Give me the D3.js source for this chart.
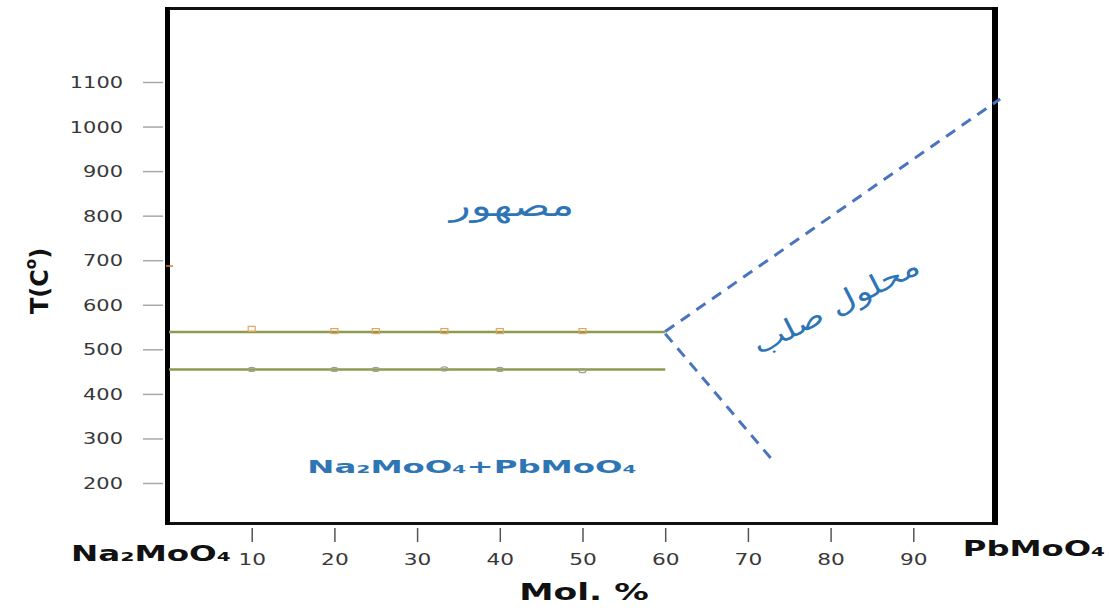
<!DOCTYPE html>
<html>
<head>
<meta charset="utf-8">
<script src="https://cdn.jsdelivr.net/npm/d3@7"></script>
<style>
  html, body { margin: 0; padding: 0; background: #fff; }
  svg { display: block; }
</style>
</head>
<body>
<svg id="chart" width="1109" height="608"></svg>
<script>
// Na2MoO4 – PbMoO4 phase diagram

// Axis ticks
const xTicks = [10, 20, 30, 40, 50, 60, 70, 80, 90];
const yTicks = [200, 300, 400, 500, 600, 700, 800, 900, 1000, 1100];

// Measured compositions (mol % PbMoO4) and thermal effects (°C)
const compositions = [10, 20, 25, 33.3, 40, 50];
const upperEffectT = [546, 541, 541, 541, 541, 541];
const lowerEffectT = [455, 455, 455, 456, 455, 452];

// Horizontal invariant lines: [from %, to %, T]
const upperLine = [0, 60, 539];
const lowerLine = [0, 60, 455];

// Melting point of pure Na2MoO4
const meltNa = [[0, 687]];

// Dashed boundaries of the solid-solution field
const liquidusPts = [[60, 540], [100.5, 1062]];
const solidusPts = [[60, 535], [72.8, 255]];

const svg = d3.select("#chart");
svg.append("rect").attr("width", 1109).attr("height", 608).attr("fill", "#fff");

const x = d3.scaleLinear().domain([0, 100]).range([169, 996]);
const y = d3.scaleLinear().domain([200, 1100]).range([483, 82]);

const frame = { left: 167.5, right: 995, top: 8.5, bottom: 523.5 };

// Horizontally stretched text helper
function wideText(parent, px, py, sx, str, opts) {
  const g = parent.append("g").attr("transform", `translate(${px},${py}) scale(${sx},1)`);
  const t = g.append("text")
    .attr("text-anchor", opts.anchor || "middle")
    .attr("dominant-baseline", "central")
    .attr("font-family", opts.family || "DejaVu Sans")
    .attr("font-size", opts.size)
    .attr("font-weight", opts.weight || "normal")
    .attr("fill", opts.fill || "#000")
    .text(str);
  return t;
}

// Y axis (ticks outside the frame)
const yAxisG = svg.append("g")
  .attr("transform", "translate(163,0)")
  .call(d3.axisLeft(y).tickValues(yTicks).tickSize(20).tickFormat(d3.format("d")));
yAxisG.select(".domain").remove();
yAxisG.selectAll(".tick line").attr("stroke", "#a8a8a8").attr("stroke-width", 1.5);
yAxisG.selectAll(".tick text").remove();
yAxisG.selectAll(".tick").each(function (d) {
  wideText(d3.select(this), -40, 0, 1.35, String(d),
    { anchor: "end", size: 15.5, fill: "#383838" });
});

// X axis
const xAxisG = svg.append("g")
  .attr("transform", "translate(0,528)")
  .call(d3.axisBottom(x).tickValues(xTicks).tickSize(14).tickFormat(d3.format("d")));
xAxisG.select(".domain").remove();
xAxisG.selectAll(".tick line").attr("stroke", "#555").attr("stroke-width", 1.5);
xAxisG.selectAll(".tick text").remove();
xAxisG.selectAll(".tick").each(function (d) {
  wideText(d3.select(this), 0, 32, 1.4, String(d), { size: 15.5, fill: "#383838" });
});

// Frame
svg.append("line").attr("x1", frame.left).attr("x2", frame.right + 3)
  .attr("y1", frame.top).attr("y2", frame.top).attr("stroke", "#111").attr("stroke-width", 3);
svg.append("line").attr("x1", frame.left).attr("x2", frame.right)
  .attr("y1", frame.bottom).attr("y2", frame.bottom).attr("stroke", "#111").attr("stroke-width", 3);
svg.append("line").attr("x1", frame.left).attr("x2", frame.left)
  .attr("y1", frame.top - 1.5).attr("y2", frame.bottom + 1.5).attr("stroke", "#000").attr("stroke-width", 5);
svg.append("line").attr("x1", frame.right).attr("x2", frame.right)
  .attr("y1", frame.top - 1.5).attr("y2", frame.bottom + 1.5).attr("stroke", "#000").attr("stroke-width", 6);

// Invariant horizontal lines
const olive = "#8e9a50";
[upperLine, lowerLine].forEach(l => {
  svg.append("line")
    .attr("x1", x(l[0])).attr("x2", x(l[1]))
    .attr("y1", y(l[2])).attr("y2", y(l[2]))
    .attr("stroke", olive).attr("stroke-width", 2.5);
});

// Thermal-effect markers
const upperData = compositions.map((c, i) => [c, upperEffectT[i]]);
const lowerData = compositions.map((c, i) => [c, lowerEffectT[i]]);
svg.append("g").selectAll("rect").data(upperData).join("rect")
  .attr("x", d => x(d[0]) - 3.5).attr("y", d => y(d[1]) - 2.5)
  .attr("width", 7).attr("height", 5)
  .attr("fill", "none").attr("stroke", "#e3a45e").attr("stroke-width", 1.2);
svg.append("g").selectAll("ellipse").data(lowerData).join("ellipse")
  .attr("cx", d => x(d[0])).attr("cy", d => y(d[1]))
  .attr("rx", 3.5).attr("ry", 2)
  .attr("fill", "none").attr("stroke", "#a0a08a").attr("stroke-width", 1.2);

// Na2MoO4 melting point
svg.append("g").selectAll("line").data(meltNa).join("line")
  .attr("x1", d => x(d[0]) - 3).attr("x2", d => x(d[0]) + 4)
  .attr("y1", d => y(d[1])).attr("y2", d => y(d[1]))
  .attr("stroke", "#d9803a").attr("stroke-width", 1.5);

// Dashed boundaries
const line = d3.line().x(d => x(d[0])).y(d => y(d[1]));
[liquidusPts, solidusPts].forEach(pts => {
  svg.append("path").attr("d", line(pts))
    .attr("fill", "none").attr("stroke", "#4a74bf")
    .attr("stroke-width", 3).attr("stroke-dasharray", "11,8");
});

// Field labels
const blue = "#2e75b6";
wideText(svg, 512, 206, 1.45, "مصهور", { size: 30, fill: blue });
const ss = svg.append("g").attr("transform", "translate(836,305) rotate(-27)");
wideText(ss, 0, 0, 1.25, "محلول صلب", { size: 28, fill: blue });
wideText(svg, 472, 467, 1.75, "Na₂MoO₄+PbMoO₄", { size: 18.5, weight: "bold", fill: blue });

// End-member labels and axis titles
wideText(svg, 151, 554, 1.55, "Na₂MoO₄", { size: 21, weight: "bold", fill: "#111" });
wideText(svg, 1034, 549, 1.5, "PbMoO₄", { size: 21.5, weight: "bold", fill: "#111" });
wideText(svg, 584, 592, 1.5, "Mol. %", { size: 23, weight: "bold", fill: "#111" });

const yt = svg.append("text")
  .attr("transform", "translate(40,281) rotate(-90)")
  .attr("text-anchor", "middle")
  .attr("dominant-baseline", "central")
  .attr("font-family", "DejaVu Sans")
  .attr("font-weight", "bold")
  .attr("font-size", 24)
  .attr("fill", "#111");
yt.append("tspan").text("T(C");
yt.append("tspan").attr("font-size", 15).attr("dy", -9).text("o");
yt.append("tspan").attr("dy", 9).text(")");
</script>
</body>
</html>
